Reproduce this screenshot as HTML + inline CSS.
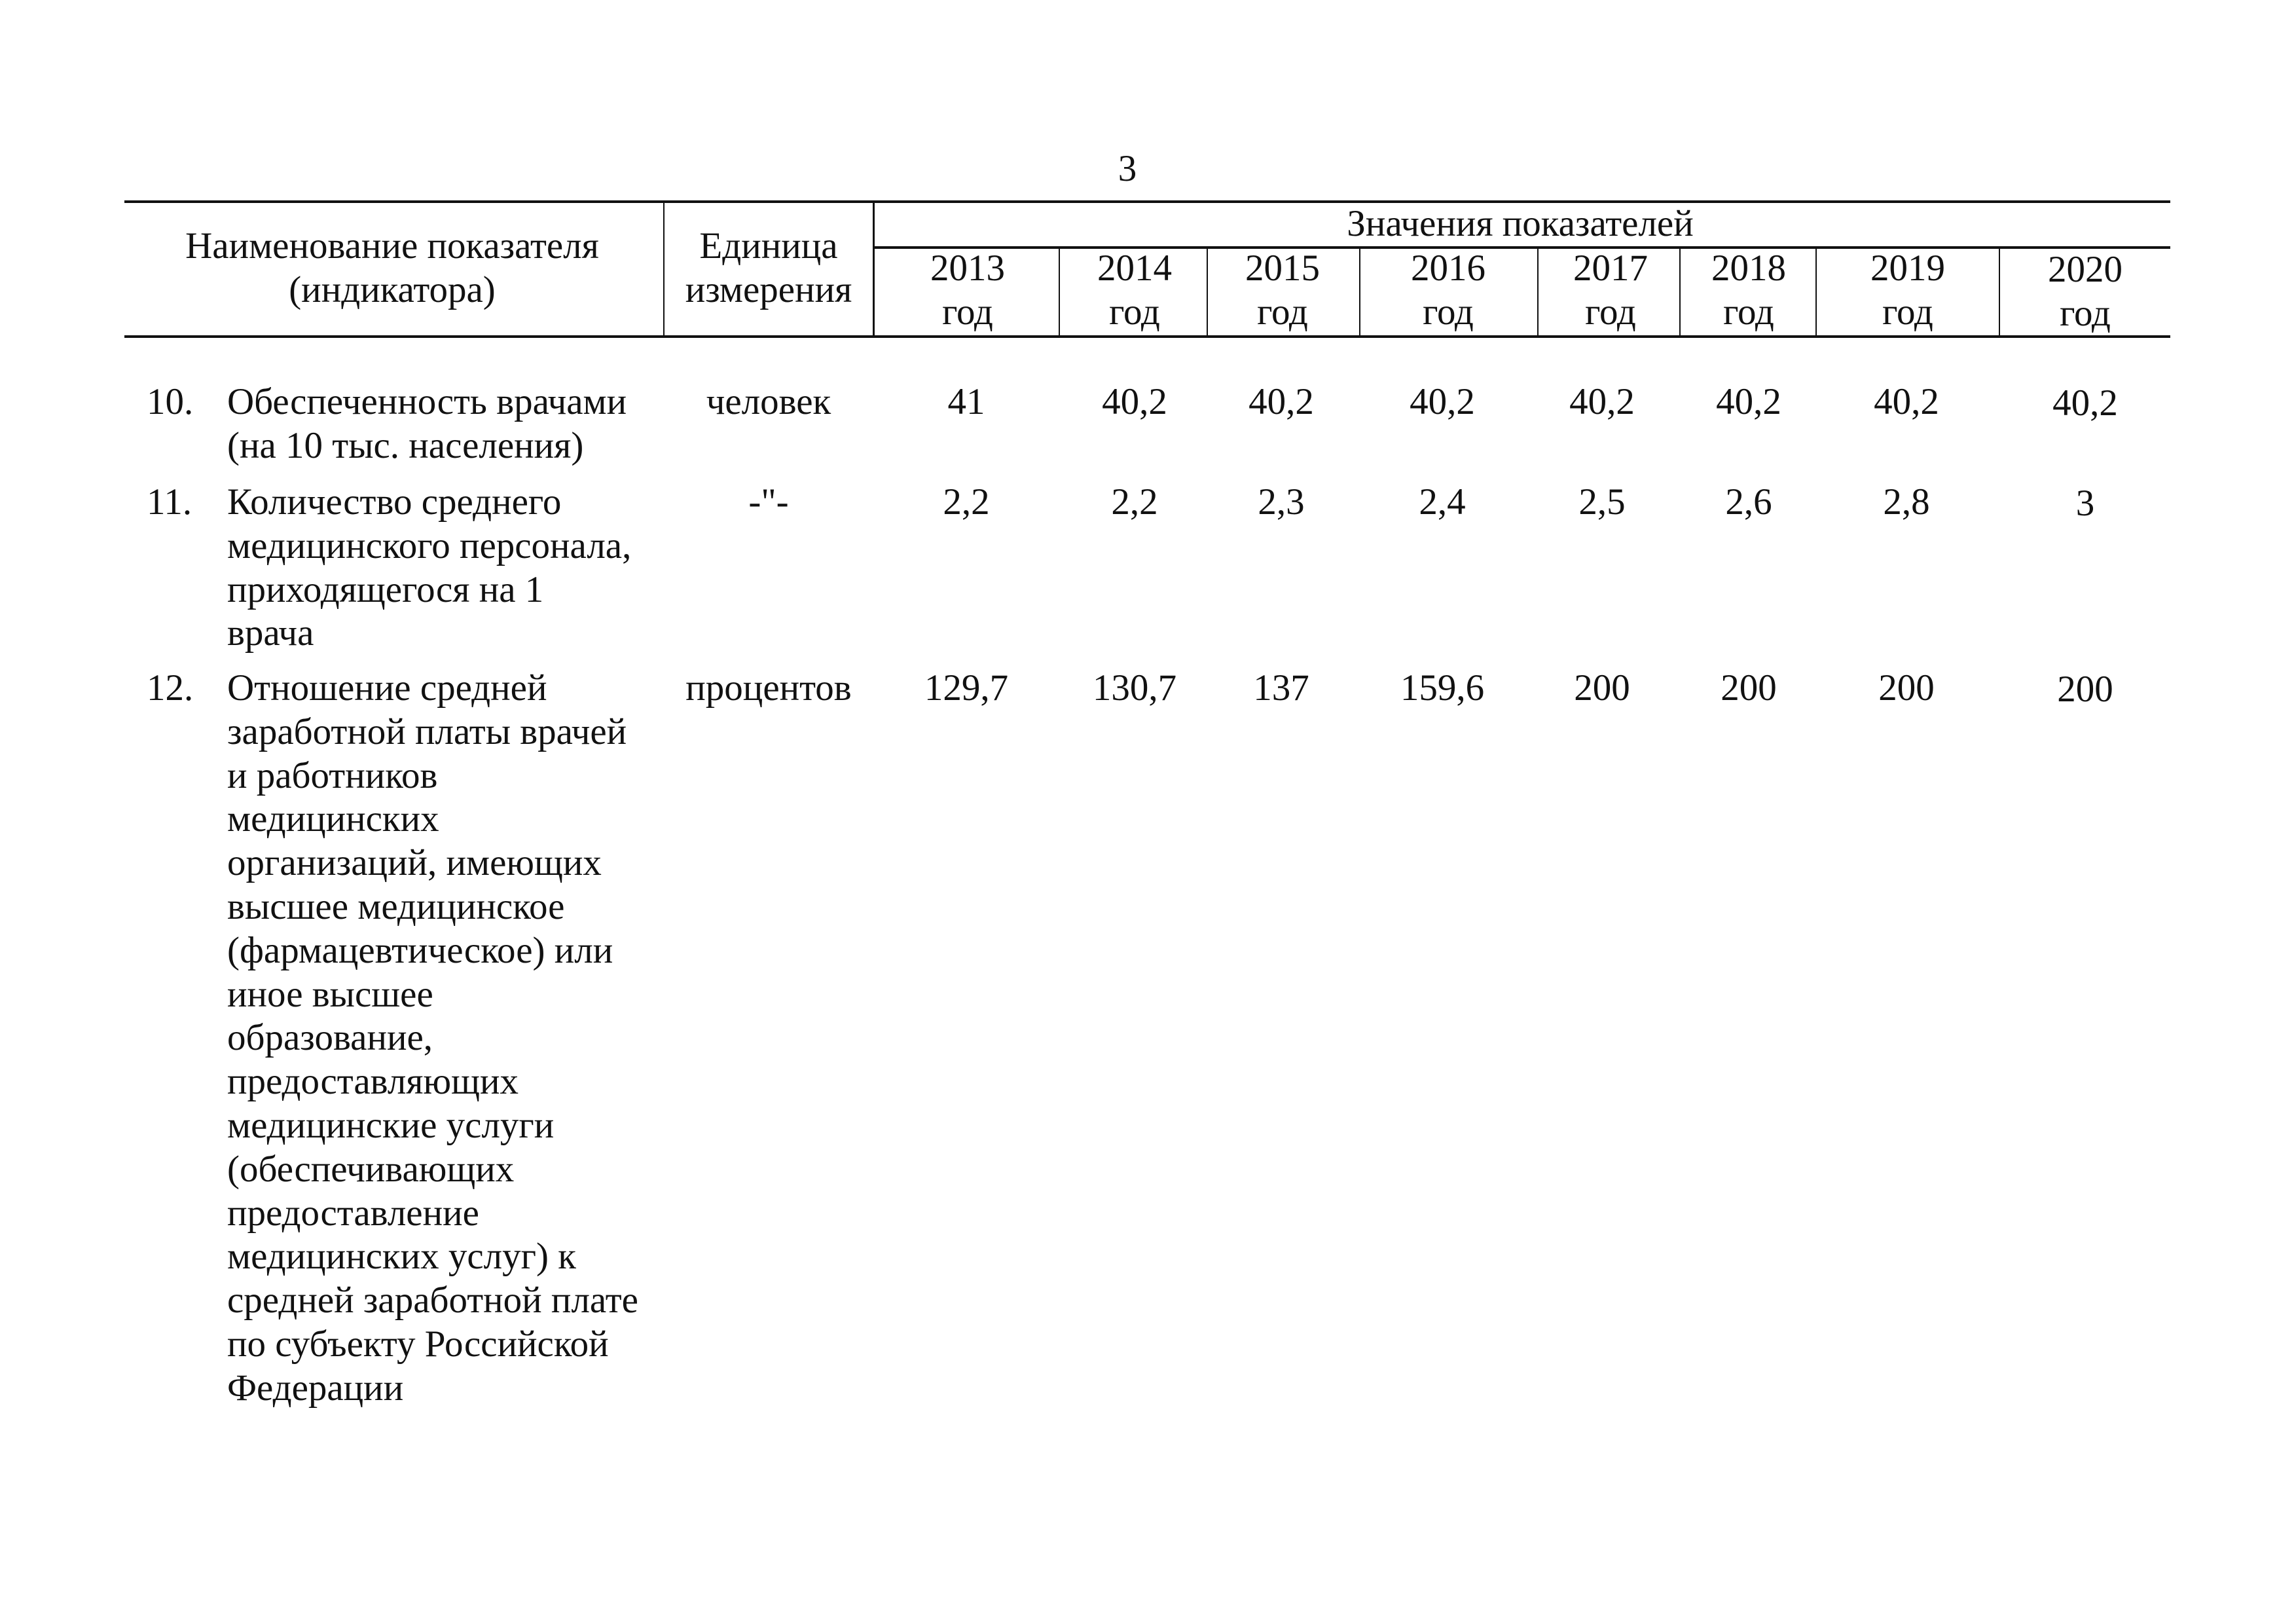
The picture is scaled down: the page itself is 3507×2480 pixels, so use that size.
<!DOCTYPE html>
<html><head><meta charset="utf-8"><style>
body{margin:0;width:3507px;height:2480px;background:#fff;position:relative;overflow:hidden;font-family:"Liberation Serif",serif;font-size:57px;color:#111}
.t{position:absolute;line-height:66.8px;white-space:nowrap}
.c{position:absolute;line-height:66.8px;white-space:nowrap;transform:translateX(-50%);text-align:center}
.h{position:absolute;background:#111}
</style></head><body>
<div class="c" style="left:1722px;top:225px">3</div>
<div class="h" style="left:190px;top:306px;width:3125px;height:4px"></div>
<div class="h" style="left:1333px;top:376px;width:1982px;height:4px"></div>
<div class="h" style="left:190px;top:512px;width:3125px;height:4px"></div>
<div class="h" style="left:1013px;top:308px;width:2px;height:206px"></div>
<div class="h" style="left:1333px;top:308px;width:3px;height:206px"></div>
<div class="h" style="left:1617px;top:378px;width:2px;height:136px"></div>
<div class="h" style="left:1843px;top:378px;width:2px;height:136px"></div>
<div class="h" style="left:2076px;top:378px;width:2px;height:136px"></div>
<div class="h" style="left:2348px;top:378px;width:2px;height:136px"></div>
<div class="h" style="left:2565px;top:378px;width:2px;height:136px"></div>
<div class="h" style="left:2773px;top:378px;width:2px;height:136px"></div>
<div class="h" style="left:3053px;top:378px;width:2px;height:136px"></div>
<div class="c" style="left:599px;top:343px">Наименование показателя<br>(индикатора)</div>
<div class="c" style="left:1174px;top:343px">Единица<br>измерения</div>
<div class="c" style="left:2322px;top:309px">Значения показателей</div>
<div class="c" style="left:1478px;top:377px">2013<br>год</div>
<div class="c" style="left:1733px;top:377px">2014<br>год</div>
<div class="c" style="left:1959px;top:377px">2015<br>год</div>
<div class="c" style="left:2212px;top:377px">2016<br>год</div>
<div class="c" style="left:2460px;top:377px">2017<br>год</div>
<div class="c" style="left:2671px;top:377px">2018<br>год</div>
<div class="c" style="left:2914px;top:377px">2019<br>год</div>
<div class="c" style="left:3185px;top:379px">2020<br>год</div>

<div class="t" style="left:224px;top:581px">10.</div>
<div class="t" style="left:347px;top:581px">Обеспеченность врачами<br>(на 10 тыс. населения)</div>
<div class="c" style="left:1174px;top:581px">человек</div>
<div class="c" style="left:1476px;top:581px">41</div>
<div class="c" style="left:1733px;top:581px">40,2</div>
<div class="c" style="left:1957px;top:581px">40,2</div>
<div class="c" style="left:2203px;top:581px">40,2</div>
<div class="c" style="left:2447px;top:581px">40,2</div>
<div class="c" style="left:2671px;top:581px">40,2</div>
<div class="c" style="left:2912px;top:581px">40,2</div>
<div class="c" style="left:3185px;top:583px">40,2</div>

<div class="t" style="left:224px;top:734px">11.</div>
<div class="t" style="left:347px;top:734px">Количество среднего<br>медицинского персонала,<br>приходящегося на 1<br>врача</div>
<div class="c" style="left:1174px;top:734px">-"-</div>
<div class="c" style="left:1476px;top:734px">2,2</div>
<div class="c" style="left:1733px;top:734px">2,2</div>
<div class="c" style="left:1957px;top:734px">2,3</div>
<div class="c" style="left:2203px;top:734px">2,4</div>
<div class="c" style="left:2447px;top:734px">2,5</div>
<div class="c" style="left:2671px;top:734px">2,6</div>
<div class="c" style="left:2912px;top:734px">2,8</div>
<div class="c" style="left:3185px;top:736px">3</div>

<div class="t" style="left:224px;top:1018px">12.</div>
<div class="t" style="left:347px;top:1018px">Отношение средней<br>заработной платы врачей<br>и работников<br>медицинских<br>организаций, имеющих<br>высшее медицинское<br>(фармацевтическое) или<br>иное высшее<br>образование,<br>предоставляющих<br>медицинские услуги<br>(обеспечивающих<br>предоставление<br>медицинских услуг) к<br>средней заработной плате<br>по субъекту Российской<br>Федерации</div>
<div class="c" style="left:1174px;top:1018px">процентов</div>
<div class="c" style="left:1476px;top:1018px">129,7</div>
<div class="c" style="left:1733px;top:1018px">130,7</div>
<div class="c" style="left:1957px;top:1018px">137</div>
<div class="c" style="left:2203px;top:1018px">159,6</div>
<div class="c" style="left:2447px;top:1018px">200</div>
<div class="c" style="left:2671px;top:1018px">200</div>
<div class="c" style="left:2912px;top:1018px">200</div>
<div class="c" style="left:3185px;top:1020px">200</div>
</body></html>
